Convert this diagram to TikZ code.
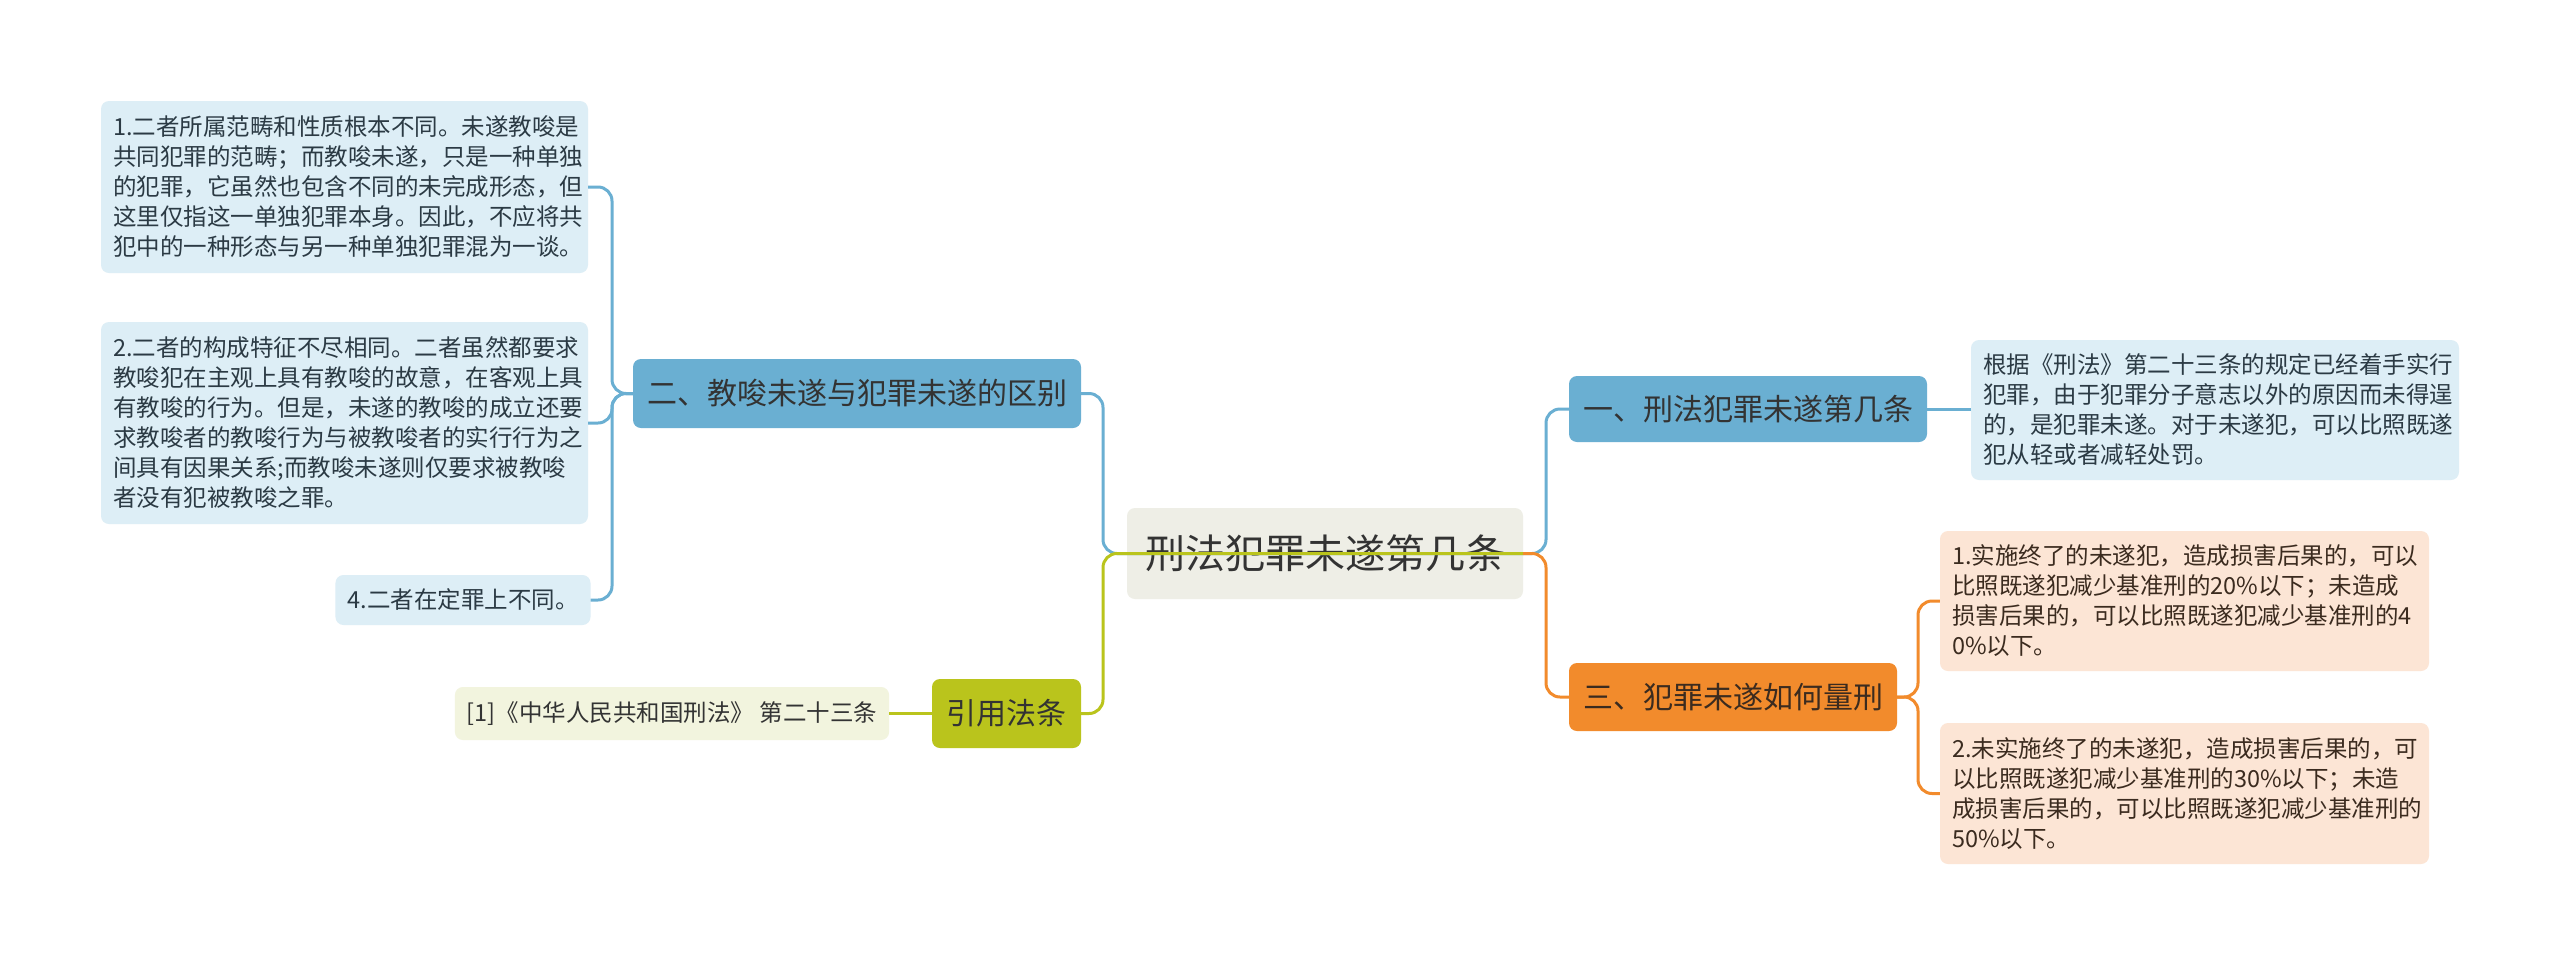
\documentclass[tikz,border=0pt]{standalone}
\usepackage{fontspec}
\setmainfont{Noto Sans CJK SC}
\definecolor{bmain}{HTML}{6AAFD2}
\definecolor{bleaf}{HTML}{DDEEF6}
\definecolor{gmain}{HTML}{BAC41C}
\definecolor{gleaf}{HTML}{F2F4DE}
\definecolor{omain}{HTML}{F28B2C}
\definecolor{oleaf}{HTML}{FCE5D5}
\definecolor{rootfill}{HTML}{EEEEE6}
\definecolor{txt}{HTML}{333333}
\definecolor{btxt}{HTML}{2B3A44}
\definecolor{otxt}{HTML}{3B2B1F}
\tikzset{
  box/.style={rounded corners=8pt, inner sep=0pt, align=left},
  mainbox/.style={box, align=center, text=txt, font=\fontsize{30}{36}\selectfont},
  leafbox/.style={box, inner xsep=12pt, font=\fontsize{23.5}{30}\selectfont},
  bline/.style={draw=bmain, line width=3pt, rounded corners=14pt},
  gline/.style={draw=gmain, line width=3pt, rounded corners=14pt},
  oline/.style={draw=omain, line width=3pt, rounded corners=14pt},
}
\begin{document}
\begin{tikzpicture}[x=1pt,y=-1pt]
\useasboundingbox[fill=white] (0,0) rectangle (2560,967);
% root
\node[box, fill=rootfill, text=txt, align=center, minimum width=396pt, minimum height=91pt, font=\fontsize{40}{46}\selectfont] (root) at (1325,553.5) {刑法犯罪未遂第几条};
% main branches
\node[mainbox, fill=bmain, minimum width=448pt, minimum height=69pt] (b2) at (857,393.5) {二、教唆未遂与犯罪未遂的区别};
\node[mainbox, fill=gmain, minimum width=149pt, minimum height=69pt] (cite) at (1006.5,713.5) {引用法条};
\node[mainbox, fill=bmain, minimum width=358pt, minimum height=66pt] (b1) at (1748,409) {一、刑法犯罪未遂第几条};
\node[mainbox, fill=omain, text=otxt, minimum width=328pt, minimum height=68pt] (b3) at (1733,697) {三、犯罪未遂如何量刑};
% leaves
\node[leafbox, fill=bleaf, text=btxt, minimum width=487pt, minimum height=172pt, text width=463pt] (l1) at (344.5,187) {1.二者所属范畴和性质根本不同。未遂教唆是\\共同犯罪的范畴；而教唆未遂，只是一种单独\\的犯罪，它虽然也包含不同的未完成形态，但\\这里仅指这一单独犯罪本身。因此，不应将共\\犯中的一种形态与另一种单独犯罪混为一谈。};
\node[leafbox, fill=bleaf, text=btxt, minimum width=487pt, minimum height=202pt, text width=463pt] (l2) at (344.5,423) {2.二者的构成特征不尽相同。二者虽然都要求\\教唆犯在主观上具有教唆的故意，在客观上具\\有教唆的行为。但是，未遂的教唆的成立还要\\求教唆者的教唆行为与被教唆者的实行行为之\\间具有因果关系;而教唆未遂则仅要求被教唆\\者没有犯被教唆之罪。};
\node[leafbox, fill=bleaf, text=btxt, minimum width=250pt, minimum height=50pt] (l3) at (463,600) {4.二者在定罪上不同。};
\node[leafbox, fill=gleaf, text=txt, minimum width=430pt, minimum height=53pt] (lc) at (672,713.5) {[1]《中华人民共和国刑法》 第二十三条};
\node[leafbox, fill=bleaf, text=btxt, minimum width=488pt, minimum height=140pt, text width=464pt] (r1) at (2215,410) {根据《刑法》第二十三条的规定已经着手实行\\犯罪，由于犯罪分子意志以外的原因而未得逞\\的，是犯罪未遂。对于未遂犯，可以比照既遂\\犯从轻或者减轻处罚。};
\node[leafbox, fill=oleaf, text=otxt, minimum width=489pt, minimum height=140pt, text width=465pt] (o1) at (2184.5,601) {1.实施终了的未遂犯，造成损害后果的，可以\\比照既遂犯减少基准刑的20\%以下；未造成\\损害后果的，可以比照既遂犯减少基准刑的4\\0\%以下。};
\node[leafbox, fill=oleaf, text=otxt, minimum width=489pt, minimum height=141pt, text width=465pt] (o2) at (2184.5,793.5) {2.未实施终了的未遂犯，造成损害后果的，可\\以比照既遂犯减少基准刑的30\%以下；未造\\成损害后果的，可以比照既遂犯减少基准刑的\\50\%以下。};
% connectors root
\coordinate (jl) at (1103,553.5);
\coordinate (jr) at (1546,553.5);
\draw[bline] (root.east) -- (jl) |- (b2.east);
\draw[gline] (root.east) -- (jl) |- (cite.east);
\draw[bline] (root.east) -- (jr) |- (b1.west);
\draw[oline] (root.east) -- (jr) |- (b3.west);
% left leaves
\coordinate (jb2) at (612,393.5);
\draw[bline] (b2.west) -- (jb2) |- (l1.east);
\draw[bline] (b2.west) -- (jb2) |- (l2.east);
\draw[bline] (b2.west) -- (jb2) |- (l3.east);
\draw[gline] (cite.west) -- (lc.east);
% right leaves
\draw[bline] (b1.east) -- (r1.west |- b1.east);
\coordinate (jb3) at (1918,697);
\draw[oline] (b3.east) -- (jb3) |- (o1.west);
\draw[oline] (b3.east) -- (jb3) |- (o2.west);
\end{tikzpicture}
\end{document}
